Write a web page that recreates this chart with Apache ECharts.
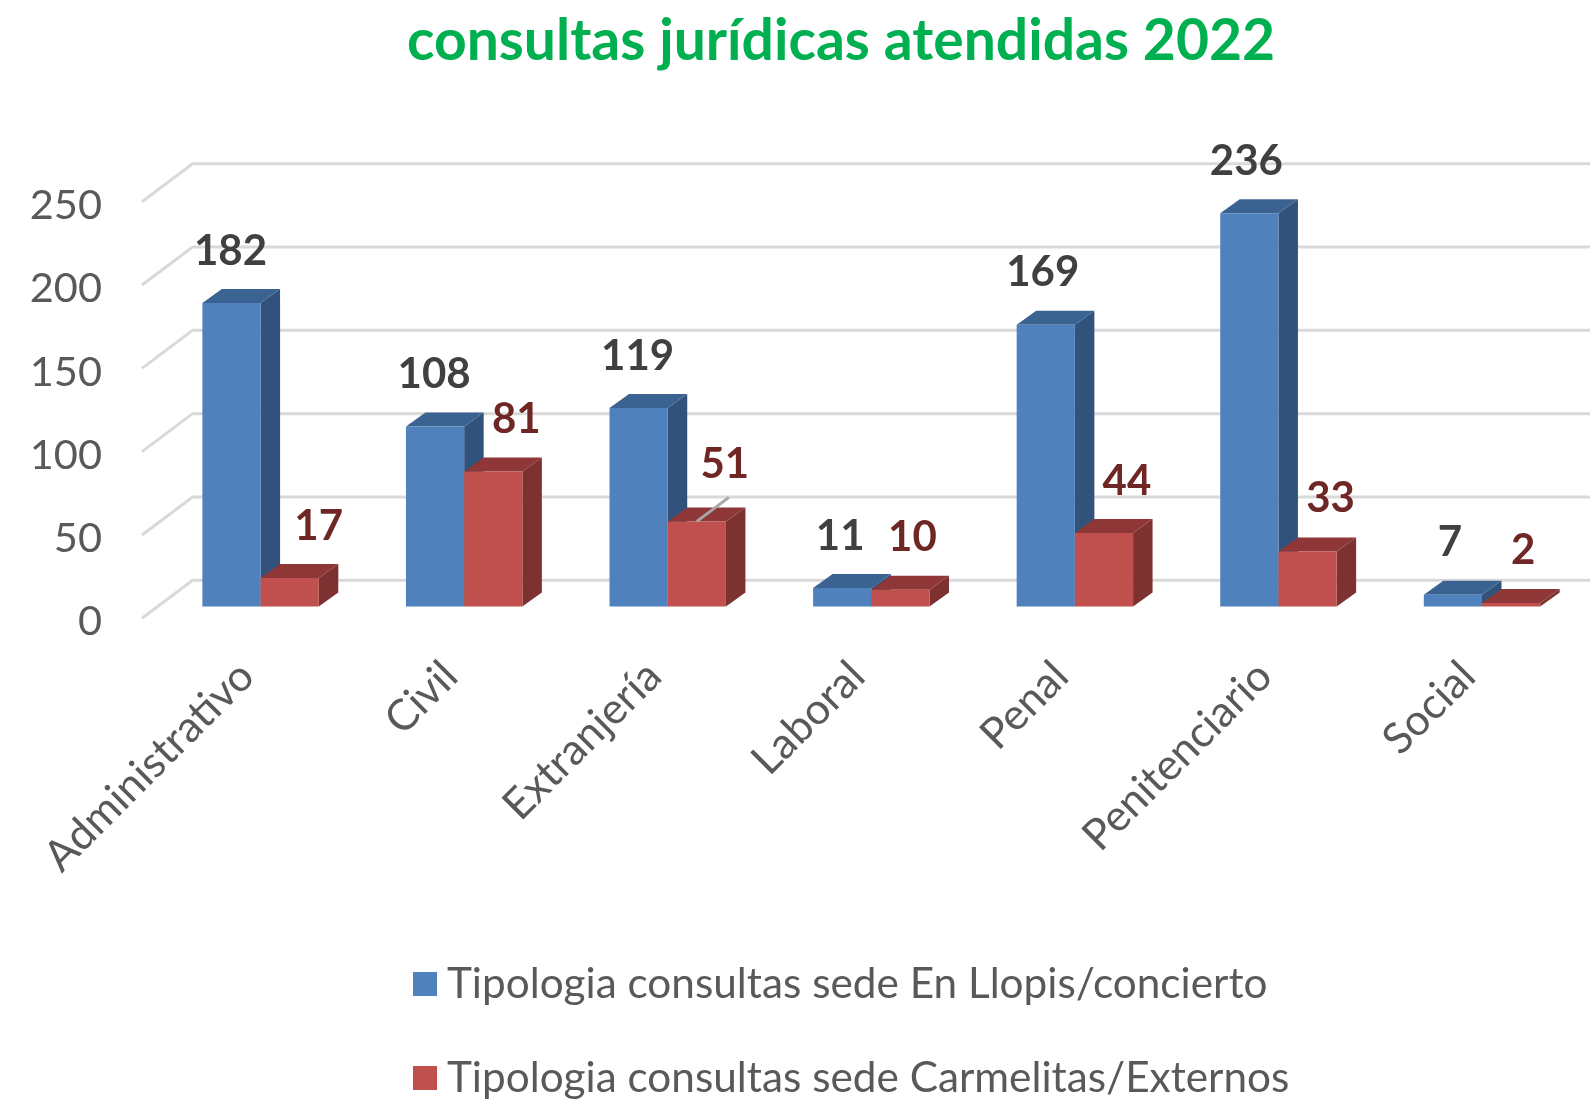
<!DOCTYPE html>
<html>
<head>
<meta charset="utf-8">
<style>html,body{margin:0;padding:0;background:#fff}#c{width:1590px;height:1101px}</style>
<script src="https://cdn.jsdelivr.net/npm/echarts@6/dist/echarts.min.js"></script>
</head>
<body>
<div id="c"></div>
<script>
const titleText = 'consultas jurídicas atendidas 2022';
const categories = ['Administrativo','Civil','Extranjería','Laboral','Penal','Penitenciario','Social'];
const seriesBlueName = 'Tipologia consultas sede En Llopis/concierto';
const seriesRedName = 'Tipologia consultas sede Carmelitas/Externos';
const blueValues = [182,108,119,11,169,236,7];
const redValues = [17,81,51,10,44,33,2];
const yTicks = [0,50,100,150,200,250];

// layout (pseudo-3D projection of the Excel chart)
const FONT = 'Lato';
const SHIFT_X = 3, SHIFT_Y = 3.8;                    // axis text frame -> front plane
const BAR_W = 58.2, BAR_DX = 16.8 - SHIFT_X, BAR_DY = -11.9 - SHIFT_Y; // axis frame -> bar front face
const DEPTH_X = 19.5, DEPTH_Y = -14;                 // bar depth
const WALL_X = 50.6, WALL_Y = -38;                   // front plane -> back wall
const LABEL_UP = 52;
const blueNudge = [-1,-1,-1,-2,-3,-3,-3];
const redNudge = [29,23,28,12,23,23,12];
const redLift = [0,0,5,0,0,1,1];

function bar(api, idx, side, colors, labelColor, nudge, lift, leader) {
  const cat = api.value(0), val = api.value(1);
  const top = api.coord([cat, val]), base = api.coord([cat, 0]);
  const x0 = base[0] + BAR_DX + (side < 0 ? -BAR_W : 0);
  const x1 = x0 + BAR_W;
  const yB = base[1] + BAR_DY, yT = top[1] + BAR_DY;
  const dx = DEPTH_X, dy = DEPTH_Y;
  const poly = (pts, fill) => ({type:'polygon', shape:{points:pts}, style:{fill:fill}});
  const children = [
    poly([[x1,yT],[x1+dx,yT+dy],[x1+dx,yB+dy],[x1,yB]], colors[2]),
    poly([[x0,yT],[x0+dx,yT+dy],[x1+dx,yT+dy],[x1,yT]], colors[1]),
    poly([[x0,yT],[x1,yT],[x1,yB],[x0,yB]], colors[0])
  ];
  const cx = (x0 + x1) / 2;
  if (leader) {
    children.push({type:'line', shape:{x1:cx, y1:yT, x2:cx+32, y2:yT-24},
      style:{stroke:'#a6a6a6', lineWidth:3}});
  }
  children.push({type:'text', style:{
    text:String(val), x:cx + nudge, y:yT - LABEL_UP - lift,
    align:'center', verticalAlign:'middle',
    font:'bold 42px ' + FONT, fill:labelColor
  }});
  return {type:'group', children};
}

const chart = echarts.init(document.getElementById('c'), null, {renderer:'canvas'});
chart.setOption({
  animation:false,
  backgroundColor:'#fff',
  title:{text:titleText, left:836, top:8, textAlign:'center',
    textStyle:{color:'#00B050', fontFamily:FONT, fontWeight:'bold', fontSize:57}},
  legend:{
    data:[{name:seriesBlueName},{name:seriesRedName}],
    orient:'vertical', left:408, top:958, height:300, width:1100, itemWidth:24, itemHeight:24, itemGap:52,
    icon:'rect', selectedMode:false,
    textStyle:{color:'#595959', fontFamily:FONT, fontSize:42.3, padding:[0,0,0,5], lineHeight:27}
  },
  grid:{left:142 + SHIFT_X, right:23 - SHIFT_X, top:201.7 + SHIFT_Y, bottom:482.7 - SHIFT_Y},
  xAxis:{type:'category', data:categories, axisLine:{show:false}, axisTick:{show:false},
    axisLabel:{rotate:45, interval:0, margin:47, color:'#595959', fontFamily:FONT, fontSize:43}},
  yAxis:{type:'value', min:0, max:250, interval:50, splitLine:{show:false},
    axisLine:{show:false}, axisTick:{show:false},
    axisLabel:{margin:43, color:'#595959', fontFamily:FONT, fontSize:41.5}},
  series:[
    {type:'custom', name:'wall', silent:true, clip:false, z:1,
      data:yTicks.map(v => [0, v]), encode:{x:0, y:1},
      renderItem:(params, api) => {
        const y = api.coord([0, api.value(1)])[1] - SHIFT_Y;
        const x = params.coordSys.x - SHIFT_X;
        return {type:'polyline',
          shape:{points:[[x,y],[x+WALL_X,y+WALL_Y],[1590,y+WALL_Y]]},
          style:{stroke:'#d9d9d9', lineWidth:3, fill:null}};
      }},
    {type:'custom', name:seriesBlueName, clip:false, z:2, itemStyle:{color:'#4F81BD'},
      data:blueValues.map((v,i) => [i, v]), encode:{x:0, y:1},
      renderItem:(params, api) => bar(api, params.dataIndex, -1,
        ['#4F81BD','#3B6392','#31527B'], '#404040', blueNudge[params.dataIndex], 0, false)},
    {type:'custom', name:seriesRedName, clip:false, z:3, itemStyle:{color:'#C0504D'},
      data:redValues.map((v,i) => [i, v]), encode:{x:0, y:1},
      renderItem:(params, api) => bar(api, params.dataIndex, 1,
        ['#C0504D','#8E3736','#7D3231'], '#6E2725', redNudge[params.dataIndex],
        redLift[params.dataIndex], categories[params.dataIndex] === 'Extranjería')}
  ]
});
</script>
</body>
</html>
